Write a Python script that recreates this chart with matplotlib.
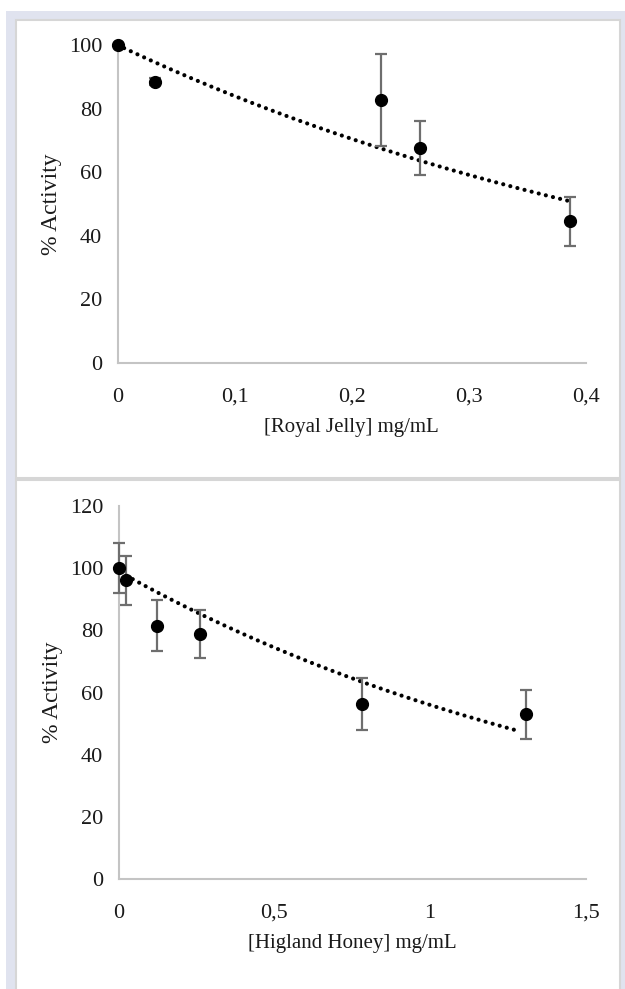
import numpy as np
import matplotlib
matplotlib.use("Agg")
import matplotlib.pyplot as plt
from matplotlib.patches import Rectangle

plt.rcParams['font.family'] = ['Liberation Serif', 'DejaVu Serif']

# Royal Jelly panel
rj_x = [0.0, 0.032, 0.225, 0.258, 0.386]
rj_y = [100.0, 88.5, 82.6, 67.6, 44.5]
rj_err = [0.0, 1.0, 14.5, 8.6, 7.7]
rj_trend = [100.0, 1.75]        # a, k of a*exp(-k*x)
rj_trend_range = [0.0, 0.384]

# Higland Honey panel
hh_x = [0.0, 0.025, 0.125, 0.26, 0.781, 1.307]
hh_y = [100.0, 96.1, 81.5, 78.8, 56.3, 53.0]
hh_err = [8.0, 7.8, 8.3, 7.8, 8.3, 7.8]
hh_trend = [99.0, 0.57]
hh_trend_range = [0.025, 1.28]

W, H = 625, 989
fig = plt.figure(figsize=(W / 100, H / 100), dpi=100)

def px(x0, y0, x1, y1):
    # pixel box (top-left origin) -> figure fraction rect
    return [x0 / W, 1 - y1 / H, (x1 - x0) / W, (y1 - y0) / H]

# page background + two white panels
fig.patches.append(Rectangle((6 / W, 0), 619 / W, 1 - 11 / H, transform=fig.transFigure,
                             facecolor='#e0e3ef', edgecolor='none', zorder=-3))
for y0, y1 in [(20, 478), (480, 995)]:
    fig.patches.append(Rectangle((16 / W, 1 - y1 / H), 604 / W, (y1 - y0) / H,
                                 transform=fig.transFigure, facecolor='white',
                                 edgecolor='#d6d6d6', linewidth=1.5, zorder=-2))

def panel(rect, xs, ys, err, trend, trange, xlim, xticks, xticklabels, ylim, yticks, xlabel):
    ax = fig.add_axes(rect)
    ax.set_facecolor('none')
    tx = np.linspace(trange[0], trange[1], 200)
    ax.plot(tx, trend[0] * np.exp(-trend[1] * tx), color='black', lw=3.0,
            linestyle=(0, (0.01, 1.75)), dash_capstyle='round', zorder=2, clip_on=False)
    ax.errorbar(xs, ys, yerr=err, fmt='none', ecolor='#6e6e6e', elinewidth=1.6,
                capsize=4, capthick=1.6, zorder=3, clip_on=False)
    ax.plot(xs, ys, 'o', color='black', ms=8.5, zorder=4, clip_on=False)
    ax.set_xlim(*xlim)
    ax.set_ylim(*ylim)
    ax.set_xticks(xticks)
    ax.set_xticklabels(xticklabels)
    ax.set_yticks(yticks)
    for s in ['top', 'right']:
        ax.spines[s].set_visible(False)
    for s in ['left', 'bottom']:
        ax.spines[s].set_color('#c4c4c4')
        ax.spines[s].set_linewidth(1.5)
    ax.tick_params(axis='both', length=0, labelsize=16, colors='#1a1a1a')
    ax.tick_params(axis='x', pad=18)
    ax.tick_params(axis='y', pad=11)
    ax.set_xlabel(xlabel, fontsize=15, labelpad=8, color='#1a1a1a')
    ax.set_ylabel('% Activity', fontsize=17, labelpad=5, color='#1a1a1a')
    return ax

panel(px(117.5, 45, 586, 363), rj_x, rj_y, rj_err, rj_trend, rj_trend_range,
      (0, 0.4), [0, 0.1, 0.2, 0.3, 0.4], ['0', '0,1', '0,2', '0,3', '0,4'],
      (0, 100), [0, 20, 40, 60, 80, 100], '[Royal Jelly] mg/mL')

panel(px(118.5, 506, 586, 879), hh_x, hh_y, hh_err, hh_trend, hh_trend_range,
      (0, 1.5), [0, 0.5, 1, 1.5], ['0', '0,5', '1', '1,5'],
      (0, 120), [0, 20, 40, 60, 80, 100, 120], '[Higland Honey] mg/mL')

fig.savefig('out.png', dpi=100)
